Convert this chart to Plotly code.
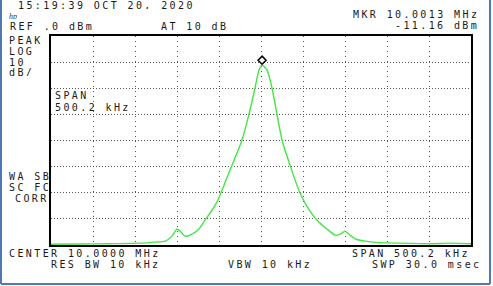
import plotly.graph_objects as go

# Trace data: frequency offset from center (kHz) and level (dBm)
freq_offset_khz = [-250, -215, -180, -144, -126, -114, -106, -100, -95, -90.5, -84.5, -75,
                   -66.7, -58.3, -51.2, -36.9, -22.6, -14.3, -7.1, -2.4, 1.3, 7.1, 13.1,
                   19.0, 25.0, 34.5, 46.4, 58.3, 67.9, 77.4, 88.1, 94, 100, 106, 113, 124,
                   142, 165, 201, 225, 250]
level_dbm = [-79.7, -79.6, -79.5, -79.3, -78.9, -78.5, -76.6, -73.9, -75.1, -76.6, -76.2, -74.3,
             -70.5, -66.7, -62.8, -51.3, -39.8, -29.9, -19.9, -13.0, -11.16, -13.0, -19.9,
             -29.9, -39.8, -49.4, -60.1, -67.0, -70.9, -73.6, -76.2, -75.9, -74.7, -76.2, -77.8, -78.5,
             -79.1, -79.3, -79.5, -79.3, -79.5]
marker_offset_khz = 1.3
marker_level_dbm = -11.16

x_ticks = [-250, -200, -150, -100, -50, 0, 50, 100, 150, 200, 250]
y_ticks = [0, -10, -20, -30, -40, -50, -60, -70, -80]

W, H = 493, 286
L, R, T, B = 51, 471, 36, 245


def px(x):
    return (x - L) / (R - L)


def py(y):
    return (B - y) / (B - T)


fig = go.Figure()
fig.add_trace(go.Scatter(x=freq_offset_khz, y=level_dbm, mode="lines",
                         line=dict(color="#44e644", width=1.4, shape="spline", smoothing=0.6),
                         hoverinfo="skip", showlegend=False))

fig.add_shape(type="path", xref="x", yref="y", xsizemode="pixel", ysizemode="pixel",
              xanchor=marker_offset_khz, yanchor=marker_level_dbm,
              path="M0,1 L4,5 L0,9 L-4,5 Z", line=dict(color="black", width=1.5),
              fillcolor="white")

font = dict(family="DejaVu Sans Mono", size=10, color="#1a1a1a")
SP = 2.4

texts = [
    ("15:19:39 OCT 20, 2020", 17, 5, "left"),
    ("REF .0 dBm", 9, 26, "left"),
    ("AT 10 dB", 160, 26, "left"),
    ("MKR 10.0013 MHz", 478, 14, "right"),
    ("-11.16 dBm", 478, 25.5, "right"),
    ("PEAK", 8, 40, "left"),
    ("LOG", 8, 51, "left"),
    ("10", 8, 62, "left"),
    ("dB/", 8, 72, "left"),
    ("SPAN", 54, 95, "left"),
    ("500.2 kHz", 54, 107, "left"),
    ("WA SB", 8, 176, "left"),
    ("SC FC", 8, 187, "left"),
    ("CORR", 48, 198, "right"),
    ("CENTER 10.0000 MHz", 8, 253, "left"),
    ("RES BW 10 kHz", 50, 264, "left"),
    ("VBW 10 kHz", 227, 264, "left"),
    ("SPAN 500.2 kHz", 469, 253, "right"),
    ("SWP 30.0 msec", 480, 264, "right"),
]
for t, x, y, anc in texts:
    xx = x + SP if anc == "right" else x
    fig.add_annotation(text=f'<span style="letter-spacing:{SP}px">{t}</span>',
                       x=px(xx), y=py(y), xref="paper", yref="paper",
                       xanchor=anc, yanchor="middle", showarrow=False, font=font,
                       height=8, valign="middle", borderpad=0)

fig.add_annotation(text="<i>hp</i>", x=px(8), y=py(16), xref="paper", yref="paper",
                   xanchor="left", yanchor="middle", showarrow=False,
                   font=dict(family="Liberation Serif", size=8, color="#333"),
                   height=6, borderpad=0)

# blue frame
blue = "#4f78b4"
for (x0, y0, x1, y1) in [(1, 0, 1, 284), (490, 0, 490, 284), (1, 284, 490, 284)]:
    fig.add_shape(type="line", xref="paper", yref="paper", x0=px(x0), y0=py(y0), x1=px(x1), y1=py(y1),
                  line=dict(color=blue, width=2))

fig.update_xaxes(range=[-250, 250], tickvals=x_ticks, showticklabels=False, ticks="",
                 showgrid=True, gridcolor="#555", griddash="1px,4px", gridwidth=1,
                 zeroline=False, showline=True, linecolor="black", linewidth=1.5, mirror=True)
fig.update_yaxes(range=[-80, 0], tickvals=y_ticks, showticklabels=False, ticks="",
                 showgrid=True, gridcolor="#555", griddash="1px,2px", gridwidth=1,
                 zeroline=False, showline=True, linecolor="black", linewidth=1.5, mirror=True)

fig.update_layout(width=W, height=H, margin=dict(l=L, r=W - R, t=T, b=H - B),
                  paper_bgcolor="white", plot_bgcolor="white", showlegend=False)

fig.write_html("out.html")
